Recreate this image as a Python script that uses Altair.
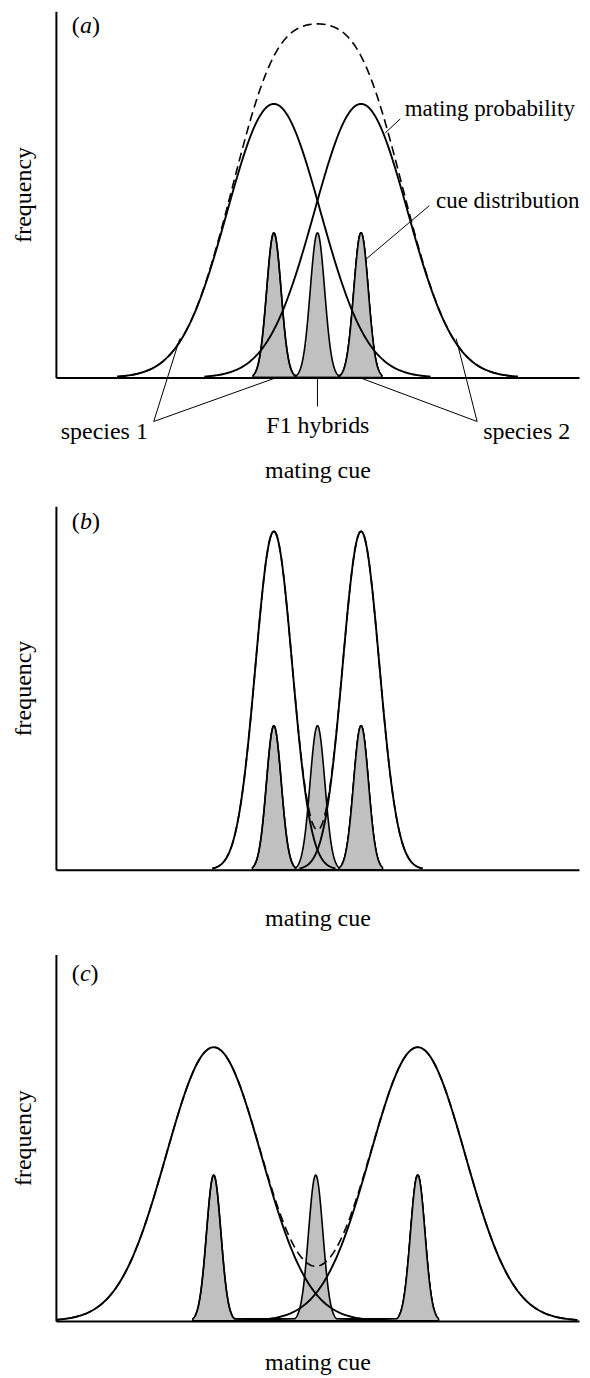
import altair as alt
import numpy as np
import pandas as pd

# ---- values (x: mating cue 0..12, y: frequency 0..1) ----
PANELS = ["a", "b", "c"]
SP1_MEAN = [5.0, 5.0, 3.62]
SP2_MEAN = [7.0, 7.0, 8.30]
F1_MEAN = [6.0, 6.0, 5.96]
PREF_SD = [1.07, 0.42, 1.09]          # mating-probability curves
PREF_PEAK = [0.747, 0.931, 0.747]
CUE_SD = [0.165, 0.17, 0.165]         # cue distributions (grey)
CUE_PEAK = [0.395, 0.396, 0.398]
PANEL_H = [367, 364, 367]
X_TITLE_PAD = [81, 37, 30]
TAG_Y = [0.940, 0.937, 0.929]

ANNOT_TEXT = ["mating probability", "cue distribution", "species 1", "F1 hybrids", "species 2"]
ANNOT_X = [8.0, 8.72, 1.11, 6.01, 10.80]
ANNOT_Y = [0.714, 0.463, -0.169, -0.150, -0.169]
ANNOT_ALIGN = ["left", "left", "center", "center", "center"]
ANNOT_SIZE = [23, 23, 24, 24, 24]

LEADER_X1 = [7.90, 8.564, 2.244, 2.244, 6.0, 9.663, 9.663]
LEADER_Y1 = [0.706, 0.469, -0.120, -0.120, -0.003, -0.120, -0.120]
LEADER_X2 = [7.557, 7.122, 2.840, 4.992, 6.0, 7.030, 9.182]
LEADER_Y2 = [0.668, 0.324, 0.106, -0.003, -0.079, -0.003, 0.106]

FONT = "Liberation Serif"
FS = 24
GREY = "#c0c0c0"


def bell(mean, sd, peak, span):
    xs = np.linspace(mean - span * sd, mean + span * sd, 241)
    xs = xs[(xs >= 0) & (xs <= 12)]
    return xs, peak * np.exp(-((xs - mean) ** 2) / (2 * sd ** 2))


def panel(i):
    p = PANELS[i]
    h = PANEL_H[i]
    xs_scale = alt.Scale(domain=[0, 12], nice=False, zero=False)
    ys_scale = alt.Scale(domain=[0, 1], nice=False, zero=False)

    # cue distributions
    rows = []
    for name, m in (("s1", SP1_MEAN[i]), ("f1", F1_MEAN[i]), ("s2", SP2_MEAN[i])):
        xs, ys = bell(m, CUE_SD[i], CUE_PEAK[i], 2.9)
        rows += [{"x": a, "y": b, "curve": name} for a, b in zip(xs, ys)]
    cue_df = pd.DataFrame(rows)

    # mating probability curves
    rows = []
    for name, m in (("p1", SP1_MEAN[i]), ("p2", SP2_MEAN[i])):
        xs, ys = bell(m, PREF_SD[i], PREF_PEAK[i], 3.36)
        rows += [{"x": a, "y": b, "curve": name} for a, b in zip(xs, ys)]
    pref_df = pd.DataFrame(rows)

    # summed mating probability (dashed)
    lo = max(0, SP1_MEAN[i] - 3.36 * PREF_SD[i])
    hi = min(12, SP2_MEAN[i] + 3.36 * PREF_SD[i])
    xs = np.linspace(lo, hi, 400)
    ys = PREF_PEAK[i] * (np.exp(-((xs - SP1_MEAN[i]) ** 2) / (2 * PREF_SD[i] ** 2))
                         + np.exp(-((xs - SP2_MEAN[i]) ** 2) / (2 * PREF_SD[i] ** 2)))
    sum_df = pd.DataFrame({"x": xs, "y": ys})

    xaxis = alt.Axis(title="mating cue", labels=False, ticks=False, grid=False,
                     domainColor="black", domainWidth=2, zindex=1,
                     titleFont=FONT, titleFontSize=FS, titleFontWeight="normal",
                     titleColor="black", titlePadding=X_TITLE_PAD[i])
    yaxis = alt.Axis(title="frequency", labels=False, ticks=False, grid=False,
                     domainColor="black", domainWidth=2, zindex=1,
                     titleFont=FONT, titleFontSize=FS, titleFontWeight="normal",
                     titleColor="black", titlePadding=20)

    X = alt.X("x:Q", scale=xs_scale, axis=xaxis)
    Y = alt.Y("y:Q", scale=ys_scale, axis=yaxis)

    area = alt.Chart(cue_df).mark_area(fill=GREY, stroke="black", strokeWidth=1.6).encode(
        x=X, y=Y, detail="curve:N")
    dashed = alt.Chart(sum_df).mark_line(color="black", strokeWidth=1.6, strokeDash=[9, 5]).encode(
        x=alt.X("x:Q", scale=xs_scale), y=alt.Y("y:Q", scale=ys_scale))
    lines = alt.Chart(pref_df).mark_line(color="black", strokeWidth=1.9).encode(
        x=alt.X("x:Q", scale=xs_scale), y=alt.Y("y:Q", scale=ys_scale), detail="curve:N")

    # panel tag "(a)" with italic letter
    letter_w = {"a": 0.275, "b": 0.275, "c": 0.244}[p]
    tag_df = pd.DataFrame({
        "t": ["(", p, ")"],
        "x": [0.366, 0.55, 0.55 + letter_w],
        "y": [TAG_Y[i]] * 3,
        "style": ["normal", "italic", "normal"],
    })
    tag_n = alt.Chart(tag_df[tag_df["style"] == "normal"]).mark_text(
        font=FONT, fontSize=FS, align="left", baseline="alphabetic", color="black").encode(
        x=alt.X("x:Q", scale=xs_scale), y=alt.Y("y:Q", scale=ys_scale), text="t:N")
    tag_i = alt.Chart(tag_df[tag_df["style"] == "italic"]).mark_text(
        font=FONT, fontSize=FS, fontStyle="italic", align="left", baseline="alphabetic",
        color="black").encode(
        x=alt.X("x:Q", scale=xs_scale), y=alt.Y("y:Q", scale=ys_scale), text="t:N")

    layers = [area, dashed, lines, tag_n, tag_i]

    if p == "a":
        lead_df = pd.DataFrame({"x": LEADER_X1, "y": LEADER_Y1, "x2": LEADER_X2, "y2": LEADER_Y2})
        leaders = alt.Chart(lead_df).mark_rule(color="black", strokeWidth=1).encode(
            x=alt.X("x:Q", scale=xs_scale), y=alt.Y("y:Q", scale=ys_scale),
            x2="x2:Q", y2="y2:Q")
        ann = pd.DataFrame({"t": ANNOT_TEXT, "x": ANNOT_X, "y": ANNOT_Y,
                            "al": ANNOT_ALIGN, "fs": ANNOT_SIZE})
        for al in ("left", "center"):
            sub = ann[ann["al"] == al]
            fs = int(sub["fs"].iloc[0])
            layers.append(alt.Chart(sub).mark_text(
                font=FONT, fontSize=fs, align=al, baseline="alphabetic", color="black").encode(
                x=alt.X("x:Q", scale=xs_scale), y=alt.Y("y:Q", scale=ys_scale), text="t:N"))
        layers.append(leaders)

    return alt.layer(*layers).properties(width=524, height=h)


chart = alt.vconcat(*[panel(i) for i in range(3)], spacing=24).properties(
    padding={"left": 4, "top": 2, "right": 0, "bottom": 0}
).configure_view(stroke=None).configure_concat(spacing=24)

chart.save("out.html", embed_options={"renderer": "svg", "actions": False})
